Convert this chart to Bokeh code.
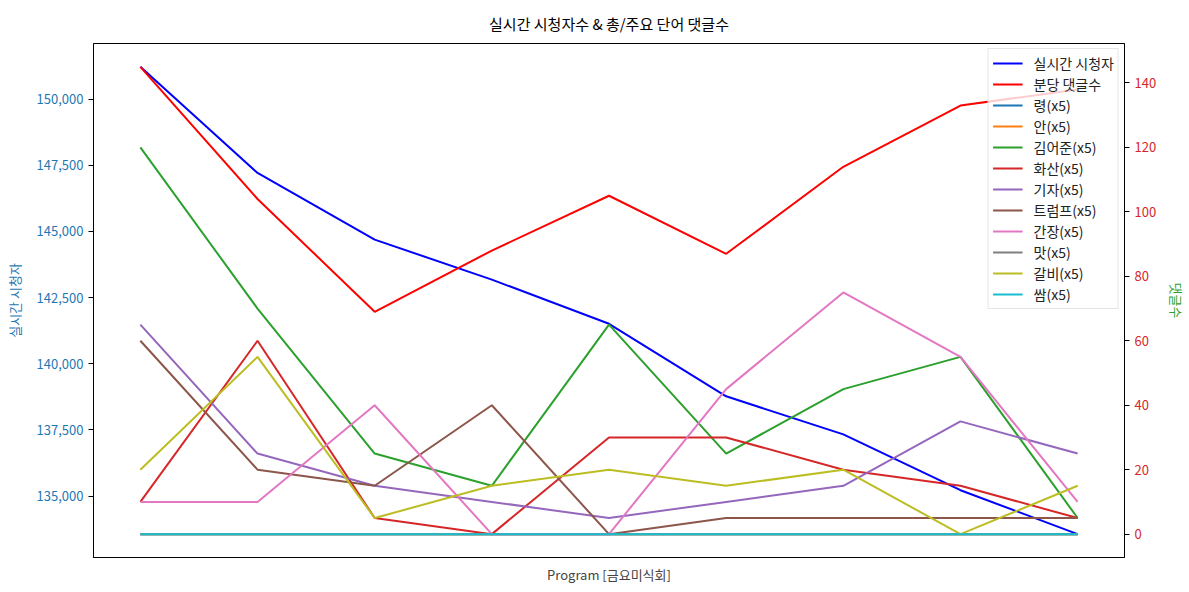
from bokeh.plotting import figure
from bokeh.models import Range1d, LinearAxis, Legend, LegendItem, NumeralTickFormatter, FixedTicker
from bokeh.embed import file_html
from bokeh.resources import INLINE

FONT = "Noto Sans CJK KR"

x = list(range(9))
viewers = [151220, 147210, 144690, 143180, 141510, 138770, 137330, 135220, 133560]
comments = [145, 104, 69, 88, 105, 87, 114, 133, 138]

word_names = ["령(x5)", "안(x5)", "김어준(x5)", "화산(x5)", "기자(x5)", "트럼프(x5)",
              "간장(x5)", "맛(x5)", "갈비(x5)", "쌈(x5)"]
word_values = [
    [0, 0, 0, 0, 0, 0, 0, 0, 0],
    [0, 0, 0, 0, 0, 0, 0, 0, 0],
    [120, 70, 25, 15, 65, 25, 45, 55, 5],
    [10, 60, 5, 0, 30, 30, 20, 15, 5],
    [65, 25, 15, 10, 5, 10, 15, 35, 25],
    [60, 20, 15, 40, 0, 5, 5, 5, 5],
    [10, 10, 40, 0, 0, 45, 75, 55, 10],
    [0, 0, 0, 0, 0, 0, 0, 0, 0],
    [20, 55, 5, 15, 20, 15, 20, 0, 15],
    [0, 0, 0, 0, 0, 0, 0, 0, 0],
]
word_colors = ["#1f77b4", "#ff7f0e", "#2ca02c", "#d62728", "#9467bd", "#8c564b",
               "#e377c2", "#7f7f7f", "#bcbd22", "#17becf"]

left_ticks = [135000, 137500, 140000, 142500, 145000, 147500, 150000]
right_ticks = [0, 20, 40, 60, 80, 100, 120, 140]

vmin, vmax = min(viewers), max(viewers)
vpad = 0.05 * (vmax - vmin)
all_right = comments + [v for s in word_values for v in s]
rmin, rmax = min(all_right), max(all_right)
rpad = 0.05 * (rmax - rmin)

p = figure(width=1189, height=592, output_backend="svg", toolbar_location=None,
           x_range=Range1d(-0.4, 8.4), y_range=Range1d(vmin - vpad, vmax + vpad),
           min_border_left=93, min_border_right=63, min_border_top=0, min_border_bottom=35)
p.title.text = "실시간 시청자수 & 총/주요 단어 댓글수"
p.title.align = "center"
p.title.text_font = FONT
p.title.text_font_style = "normal"
p.title.text_font_size = "15px"
p.title.text_color = "black"
p.title.standoff = 20
p.grid.visible = False
p.outline_line_color = "black"
p.outline_line_width = 1
p.background_fill_color = "white"
p.border_fill_color = "white"

p.extra_y_ranges = {"right": Range1d(rmin - rpad, rmax + rpad)}

# x axis
xa = p.xaxis[0]
xa.ticker = FixedTicker(ticks=[])
xa.axis_label = "Program [금요미식회]"
xa.axis_label_text_font = FONT
xa.axis_label_text_font_style = "normal"
xa.axis_label_text_font_size = "13px"
xa.axis_label_standoff = 7
xa.axis_line_color = "black"

# left axis
ya = p.yaxis[0]
ya.ticker = FixedTicker(ticks=left_ticks)
ya.formatter = NumeralTickFormatter(format="0,0")
ya.axis_label = "실시간 시청자"
ya.axis_label_text_color = "#1f77b4"
ya.axis_label_text_font = FONT
ya.axis_label_text_font_style = "normal"
ya.axis_label_text_font_size = "13px"
ya.major_label_text_color = "#1f77b4"
ya.major_label_text_font = FONT
ya.major_label_text_font_size = "13px"
ya.major_tick_out = 5
ya.major_tick_in = 0
ya.minor_tick_out = 0
ya.minor_tick_in = 0
ya.major_label_standoff = 5
ya.axis_label_standoff = 10
ya.axis_line_color = "black"

ra = LinearAxis(y_range_name="right", ticker=FixedTicker(ticks=right_ticks))
ra.axis_label = "댓글수"
ra.axis_label_text_color = "#2ca02c"
ra.axis_label_text_font = FONT
ra.axis_label_text_font_style = "normal"
ra.axis_label_text_font_size = "13px"
ra.major_label_text_color = "#d62728"
ra.major_label_text_font = FONT
ra.major_label_text_font_size = "13px"
ra.major_tick_out = 5
ra.major_tick_in = 0
ra.minor_tick_out = 0
ra.minor_tick_in = 0
ra.major_label_standoff = 5
ra.axis_label_standoff = 8
ra.axis_line_color = "black"
p.add_layout(ra, "right")

items = []
r_view = p.line(x, viewers, color="blue", line_width=2)
items.append(LegendItem(label="실시간 시청자", renderers=[r_view]))
r_com = p.line(x, comments, color="red", line_width=2, y_range_name="right", level="overlay")
items.append(LegendItem(label="분당 댓글수", renderers=[r_com]))
for name, vals, col in zip(word_names, word_values, word_colors):
    r = p.line(x, vals, color=col, line_width=2, y_range_name="right")
    items.append(LegendItem(label=name, renderers=[r]))

legend = Legend(items=items, location="top_right")
legend.label_text_font = FONT
legend.label_text_font_size = "14px"
legend.label_text_color = "#222222"
legend.glyph_width = 30
legend.glyph_height = 16
legend.label_height = 16
legend.spacing = 1
legend.padding = 4
legend.margin = 5
legend.label_standoff = 11
legend.border_line_color = "#cccccc"
legend.border_line_width = 1
legend.background_fill_alpha = 0.8
p.add_layout(legend, "center")

open("out.html", "w").write(file_html(p, INLINE))
